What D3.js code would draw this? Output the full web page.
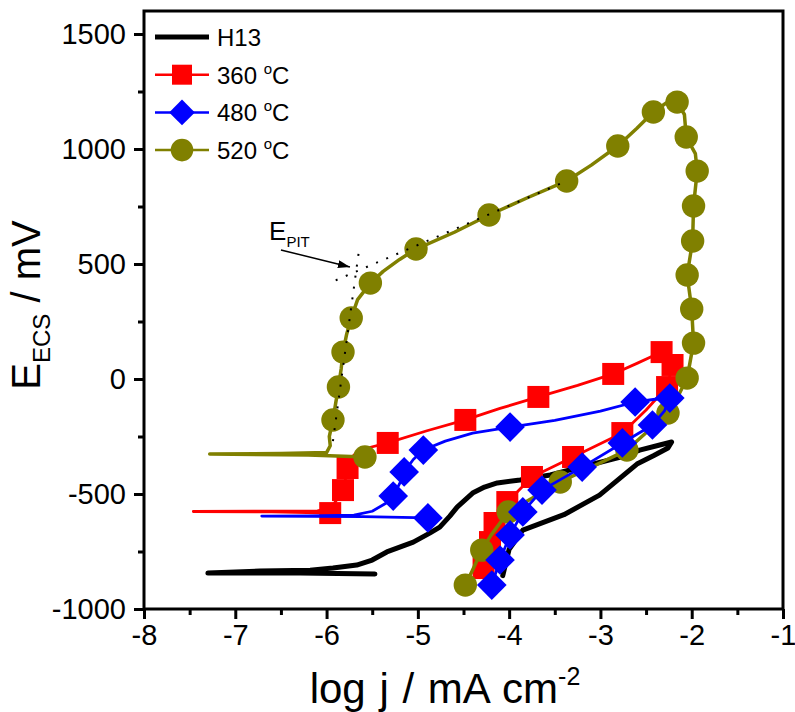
<!DOCTYPE html>
<html>
<head>
<meta charset="utf-8">
<script src="https://cdn.jsdelivr.net/npm/d3@7"></script>
<style>
  html, body { margin: 0; padding: 0; background: #fff; }
  svg { display: block; }
  text { font-family: "Liberation Sans", Arial, sans-serif; fill: #000; }
</style>
</head>
<body>
<svg id="chart" width="795" height="712"></svg>
<script>
// Axis ticks
const xMajorTicks = [-8, -7, -6, -5, -4, -3, -2, -1];
const xMinorTicks = [-7.5, -6.5, -5.5, -4.5, -3.5, -2.5, -1.5];
const yMajorTicks = [-1000, -500, 0, 500, 1000, 1500];
const yMinorTicks = [-750, -250, 250, 750, 1250];

// Series names (legend order)
const seriesNames = ["H13", "360 \u00B0C", "480 \u00B0C", "520 \u00B0C"];

// H13 cyclic polarisation curve: [log j, E]
const h13Curve = [
  [-5.47, -848], [-6.29, -844], [-7.30, -844], [-6.73, -835], [-6.18, -831],
  [-5.93, -822], [-5.67, -809], [-5.50, -787], [-5.34, -752], [-5.05, -709],
  [-4.87, -670], [-4.76, -644], [-4.65, -596], [-4.57, -557], [-4.40, -496],
  [-4.27, -470], [-4.13, -452], [-3.88, -439], [-3.55, -417], [-3.12, -374],
  [-2.80, -342], [-2.57, -309], [-2.35, -287], [-2.22, -274], [-2.26, -300],
  [-2.42, -334], [-2.60, -370], [-3.01, -505], [-3.40, -590], [-3.85, -657],
  [-4.00, -740], [-4.07, -855]
];

// 360 °C curve and its symbols
const t360Curve = [
  [-5.96, -583], [-6.60, -578], [-7.46, -576], [-6.80, -575], [-6.10, -573],
  [-5.95, -560], [-5.88, -520], [-5.82, -483], [-5.79, -430], [-5.77, -387],
  [-5.70, -330], [-5.55, -300], [-5.33, -278], [-4.90, -225], [-4.48, -178],
  [-4.10, -128], [-3.68, -78], [-3.25, -28], [-2.86, 22], [-2.60, 68],
  [-2.33, 117], [-2.21, 61], [-2.27, -35], [-2.50, -135], [-2.76, -235],
  [-3.30, -339], [-3.75, -426], [-4.02, -535], [-4.16, -626], [-4.21, -709],
  [-4.28, -822]
];
const t360Marks = [
  [-5.96, -583], [-5.82, -483], [-5.77, -387], [-5.33, -278], [-4.48, -178],
  [-3.68, -78], [-2.86, 22], [-2.33, 117], [-2.21, 61], [-2.27, -35],
  [-2.76, -235], [-3.30, -339], [-3.75, -426], [-4.02, -535], [-4.16, -626],
  [-4.21, -709], [-4.28, -822]
];

// 480 °C curve and its symbols
const t480Curve = [
  [-4.89, -604], [-5.60, -598], [-6.71, -596], [-6.20, -595], [-5.70, -592],
  [-5.50, -575], [-5.35, -540], [-5.27, -509], [-5.20, -455], [-5.15, -404],
  [-5.05, -350], [-4.94, -309], [-4.70, -270], [-4.40, -235], [-3.99, -209],
  [-3.50, -180], [-3.00, -140], [-2.62, -100], [-2.40, -88], [-2.24, -83],
  [-2.30, -140], [-2.43, -200], [-2.76, -278], [-3.20, -383], [-3.64, -483],
  [-3.85, -578], [-3.99, -678], [-4.10, -787], [-4.19, -896]
];
const t480Marks = [
  [-4.89, -604], [-5.27, -509], [-5.15, -404], [-4.94, -309], [-3.99, -209],
  [-2.62, -100], [-2.24, -83], [-2.43, -200], [-2.76, -278], [-3.20, -383],
  [-3.64, -483], [-3.85, -578], [-3.99, -678], [-4.10, -787], [-4.19, -896]
];

// 520 °C curve and its symbols
const t520Curve = [
  [-5.58, -339], [-6.20, -330], [-7.28, -326], [-6.50, -324], [-6.00, -320],
  [-5.96, -290], [-5.97, -250], [-5.93, -178], [-5.90, -105], [-5.87, -35],
  [-5.84, 45], [-5.82, 117], [-5.78, 195], [-5.73, 265], [-5.66, 345],
  [-5.52, 417], [-5.38, 468], [-5.20, 520], [-5.02, 565], [-4.60, 638],
  [-4.22, 713], [-3.80, 788], [-3.37, 861], [-3.10, 930], [-2.81, 1013],
  [-2.60, 1090], [-2.42, 1161], [-2.28, 1200], [-2.16, 1204], [-2.08, 1150],
  [-2.06, 1052], [-1.96, 980], [-1.94, 904], [-1.98, 752], [-1.99, 600],
  [-2.05, 452], [-2.00, 304], [-1.98, 156], [-2.05, 4], [-2.15, -75],
  [-2.26, -148], [-2.71, -309], [-3.44, -448], [-4.01, -578], [-4.20, -680],
  [-4.30, -744], [-4.40, -830], [-4.48, -896]
];
const t520Marks = [
  [-5.58, -339], [-5.93, -178], [-5.87, -35], [-5.82, 117], [-5.73, 265],
  [-5.52, 417], [-5.02, 565], [-4.22, 713], [-3.37, 861], [-2.81, 1013],
  [-2.42, 1161], [-2.16, 1204], [-2.06, 1052], [-1.94, 904], [-1.98, 752],
  [-1.99, 600], [-2.05, 452], [-2.00, 304], [-1.98, 156], [-2.05, 4],
  [-2.26, -148], [-2.71, -309], [-3.44, -448], [-4.01, -578], [-4.30, -744],
  [-4.48, -896]
];

// Dotted tangents used to locate the pitting potential
const passiveTangent = [[-5.93, -270], [-5.645, 559]];
const pittingTangent = [[-5.90, 429], [-3.37, 861]];
const epitArrow = [[-6.50, 561], [-5.744, 487]];
const epitLabelAt = [-6.63, 604];

const colors = { h13: "#000000", t360: "#FF0000", t480: "#0000FF", t520: "#808000" };

const svg = d3.select("#chart");
const W = 795, H = 712;
const plot = { left: 144, right: 783, top: 11, bottom: 609 };

const x = d3.scaleLinear().domain([-8, -1]).range([plot.left, plot.right]);
const y = d3.scaleLinear().domain([-1000, 1600]).range([plot.bottom, plot.top]);

svg.append("rect").attr("width", W).attr("height", H).attr("fill", "#fff");

const defs = svg.append("defs");
defs.append("clipPath").attr("id", "plotclip")
  .append("rect")
  .attr("x", plot.left).attr("y", plot.top)
  .attr("width", plot.right - plot.left).attr("height", plot.bottom - plot.top);

// Axes (outward ticks)
svg.append("g").attr("transform", `translate(0,${plot.bottom})`)
  .call(d3.axisBottom(x).tickValues(xMajorTicks).tickSize(10).tickPadding(5)
    .tickFormat(d => String(d)));
svg.append("g").attr("transform", `translate(0,${plot.bottom})`)
  .call(d3.axisBottom(x).tickValues(xMinorTicks).tickSize(6).tickFormat(""));
svg.append("g").attr("transform", `translate(${plot.left},0)`)
  .call(d3.axisLeft(y).tickValues(yMajorTicks).tickSize(10).tickPadding(8)
    .tickFormat(d => String(d)));
svg.append("g").attr("transform", `translate(${plot.left},0)`)
  .call(d3.axisLeft(y).tickValues(yMinorTicks).tickSize(6).tickFormat(""));

svg.selectAll(".domain").remove();
svg.selectAll(".tick line").attr("stroke", "#000").attr("stroke-width", 3);
svg.selectAll(".tick text")
  .style("font-family", "'Liberation Sans', Arial, sans-serif")
  .style("font-size", "29px").attr("fill", "#000");

// Frame
svg.append("rect")
  .attr("x", plot.left).attr("y", plot.top)
  .attr("width", plot.right - plot.left).attr("height", plot.bottom - plot.top)
  .attr("fill", "none").attr("stroke", "#000").attr("stroke-width", 3);

// Axis titles
const yTitle = svg.append("text")
  .attr("transform", `translate(40,305) rotate(-90)`)
  .attr("text-anchor", "middle")
  .style("font-size", "40px");
yTitle.append("tspan").text("E");
yTitle.append("tspan").attr("dy", 10).style("font-size", "24px").text("ECS");
yTitle.append("tspan").attr("dy", -10).text(" / mV");

const xTitle = svg.append("text")
  .attr("x", 445).attr("y", 703)
  .attr("text-anchor", "middle")
  .style("font-size", "42px")
  .style("word-spacing", "2px");
xTitle.append("tspan").text("log j / mA cm");
xTitle.append("tspan").attr("dy", -18).style("font-size", "25px").text("-2");

// Curves
const lineGen = d3.line().x(d => x(d[0])).y(d => y(d[1])).curve(d3.curveLinear);
const g = svg.append("g").attr("clip-path", "url(#plotclip)");

function drawCurve(data, color, width) {
  g.append("path").datum(data).attr("d", lineGen)
    .attr("fill", "none").attr("stroke", color).attr("stroke-width", width)
    .attr("stroke-linejoin", "round").attr("stroke-linecap", "round");
}
function drawSymbols(data, color, shape, size) {
  g.append("g").selectAll("path").data(data).join("path")
    .attr("transform", d => `translate(${x(d[0])},${y(d[1])})` + (shape === "diamond" ? " rotate(45)" : ""))
    .attr("d", d3.symbol().type(shape === "circle" ? d3.symbolCircle : d3.symbolSquare).size(size))
    .attr("fill", color);
}

drawCurve(h13Curve, colors.h13, 5);
drawCurve(t360Curve, colors.t360, 2.8);
drawSymbols(t360Marks, colors.t360, "square", 484);
drawCurve(t520Curve, colors.t520, 3.5);
drawSymbols(t520Marks, colors.t520, "circle", 430);
drawCurve(t480Curve, colors.t480, 2.8);
drawSymbols(t480Marks, colors.t480, "diamond", 440);

// Dotted tangents
[passiveTangent, pittingTangent].forEach(t => {
  g.append("path").datum(t).attr("d", lineGen)
    .attr("fill", "none").attr("stroke", "#000").attr("stroke-width", 2)
    .attr("stroke-dasharray", "2,9");
});

// E_PIT annotation with arrow
defs.append("marker").attr("id", "arrowhead")
  .attr("viewBox", "0 0 12 8").attr("refX", 12).attr("refY", 4)
  .attr("markerWidth", 12).attr("markerHeight", 8).attr("markerUnits", "userSpaceOnUse")
  .attr("orient", "auto")
  .append("path").attr("d", "M0,0 L12,4 L0,8 Z").attr("fill", "#000");
svg.append("line")
  .attr("x1", x(epitArrow[0][0])).attr("y1", y(epitArrow[0][1]))
  .attr("x2", x(epitArrow[1][0])).attr("y2", y(epitArrow[1][1]))
  .attr("stroke", "#000").attr("stroke-width", 1.5)
  .attr("marker-end", "url(#arrowhead)");
const epit = svg.append("text")
  .attr("x", x(epitLabelAt[0])).attr("y", y(epitLabelAt[1]))
  .style("font-size", "26px");
epit.append("tspan").text("E");
epit.append("tspan").attr("dy", 7).style("font-size", "15px").text("PIT");

// Legend
const legendRows = [
  { name: seriesNames[0], color: colors.h13, shape: null, width: 5 },
  { name: seriesNames[1], color: colors.t360, shape: "square", width: 2.5 },
  { name: seriesNames[2], color: colors.t480, shape: "diamond", width: 2.5 },
  { name: seriesNames[3], color: colors.t520, shape: "circle", width: 2.5 }
];
const lg = svg.append("g");
legendRows.forEach((r, i) => {
  const cy = 37 + i * 37.7;
  lg.append("line").attr("x1", 155).attr("x2", 209).attr("y1", cy).attr("y2", cy)
    .attr("stroke", r.color).attr("stroke-width", r.width);
  if (r.shape) {
    const size = r.shape === "square" ? 400 : (r.shape === "circle" ? 400 : 330);
    lg.append("path")
      .attr("transform", `translate(182,${cy})` + (r.shape === "diamond" ? " rotate(45)" : ""))
      .attr("d", d3.symbol().type(r.shape === "circle" ? d3.symbolCircle : d3.symbolSquare).size(size))
      .attr("fill", r.color);
  }
  const t = lg.append("text").attr("x", 217).attr("y", cy + 9).style("font-size", "24px");
  const parts = r.name.split("\u00B0");
  if (parts.length === 2) {
    t.append("tspan").text(parts[0]);
    t.append("tspan").attr("dy", -10).style("font-size", "15px").text("o");
    t.append("tspan").attr("dy", 10).text(parts[1]);
  } else {
    t.text(r.name);
  }
});
</script>
</body>
</html>
